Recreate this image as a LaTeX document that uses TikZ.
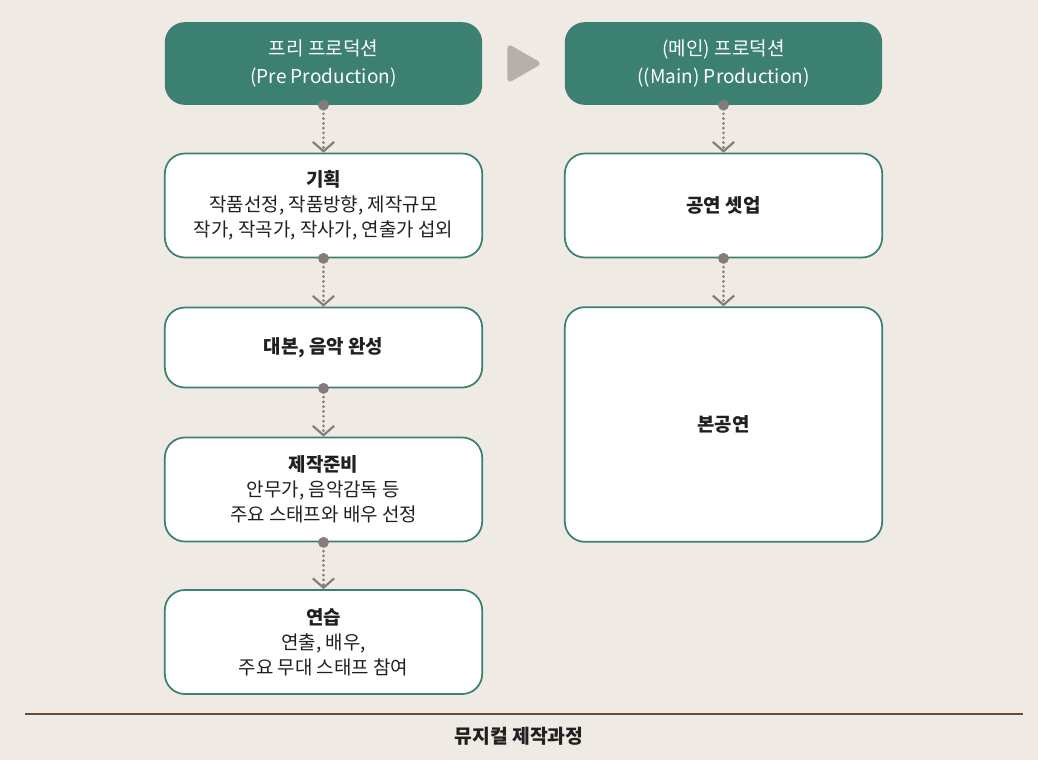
\documentclass[tikz,border=0pt]{standalone}
\usepackage{fontspec}
\setmainfont{Noto Sans CJK KR}
\usetikzlibrary{arrows.meta}
\definecolor{bg}{HTML}{EFEAE4}
\definecolor{teal}{HTML}{3B8071}
\definecolor{dotc}{HTML}{857B78}
\definecolor{tri}{HTML}{B8AFAB}
\definecolor{rule}{HTML}{6B4A33}
\definecolor{txt}{HTML}{231F20}
\tikzset{
  header/.style={draw=none, fill=teal, rounded corners=15pt, text=white, align=center,
    font=\fontsize{14.3}{21.5}\selectfont, inner sep=0pt},
  stage/.style={draw=teal, line width=1.3pt, fill=white, rounded corners=15pt, text=txt, align=center,
    font=\fontsize{14.2}{18.8}\selectfont, inner sep=0pt},
  conn/.style={draw=dotc, line width=2.2pt, line cap=round, dash pattern=on 0pt off 3.6pt, shorten <=-4pt,
    {Circle[length=8pt,width=8pt,fill=dotc,sep=0pt]}-{Straight Barb[length=7pt,width=16pt,line width=1.6pt]}}
}
\begin{document}
\begin{tikzpicture}[x=0.75pt,y=-0.75pt]
\fill[bg] (0,0) rectangle (1038,760);
\useasboundingbox (0,0) rectangle (1038,760);
% left column
\node[header, minimum width=238pt, minimum height=62pt] (h1) at (323.5,63.5) {프리 프로덕션\\(Pre Production)};
\node[stage, minimum width=238pt, minimum height=78pt] (b1) at (323.5,205.5) {\textbf{기획}\\작품선정, 작품방향, 제작규모\\작가, 작곡가, 작사가, 연출가 섭외};
\node[stage, minimum width=238pt, minimum height=60pt] (b2) at (323.5,347.5) {\textbf{대본, 음악 완성}};
\node[stage, minimum width=238pt, minimum height=78pt] (b3) at (323.5,489.5) {\textbf{제작준비}\\안무가, 음악감독 등\\주요 스태프와 배우 선정};
\node[stage, minimum width=238pt, minimum height=78pt] (b4) at (323.5,642) {\textbf{연습}\\연출, 배우,\\주요 무대 스태프 참여};
% right column
\node[header, minimum width=238pt, minimum height=62pt] (h2) at (723.5,63.5) {(메인) 프로덕션\\((Main) Production)};
\node[stage, minimum width=238pt, minimum height=78pt] (r1) at (723.5,205.5) {\textbf{공연 셋업}};
\node[stage, minimum width=238pt, minimum height=176pt] (r2) at (723.5,424.5) {\textbf{본공연}};
% triangle
\fill[tri, draw=tri, line width=4pt, line join=round] (510,48) -- (537,63.5) -- (510,79) -- cycle;
% connectors
\draw[conn] (h1.south) -- (b1.north);
\draw[conn] (b1.south) -- (b2.north);
\draw[conn] (b2.south) -- (b3.north);
\draw[conn] (b3.south) -- (b4.north);
\draw[conn] (h2.south) -- (r1.north);
\draw[conn] (r1.south) -- (r2.north);
% bottom rule and caption
\coordinate (la) at (25,714);
\coordinate (lb) at (1023,714);
\draw[rule, line width=1.6pt] (la) -- (lb);
\node[text=txt, font=\fontsize{14.5}{16}\selectfont\bfseries] (cap) at (519,736) {뮤지컬 제작과정};
\end{tikzpicture}
\end{document}
